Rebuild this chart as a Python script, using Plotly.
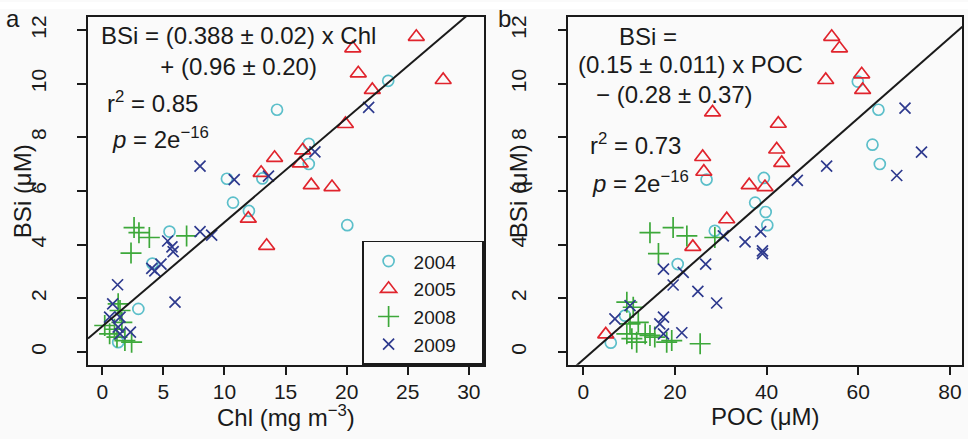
import plotly.graph_objects as go

# ---- data -------------------------------------------------------------
years = ["2004", "2005", "2008", "2009"]

# panel a: BSi vs Chl
chl_2004 = [14.3, 23.4, 16.9, 16.9, 10.2, 13.1, 10.7, 12.0, 5.5, 4.1, 2.95, 1.3, 20.05]
bsi_chl_2004 = [9.03, 10.11, 7.76, 7.01, 6.46, 6.47, 5.57, 5.26, 4.49, 3.30, 1.61, 0.37, 4.73]
chl_2005 = [25.7, 20.5, 20.95, 27.9, 22.1, 19.9, 16.4, 14.1, 16.2, 13.0, 17.1, 18.8, 11.95, 13.45]
bsi_chl_2005 = [11.75, 11.32, 10.39, 10.14, 9.77, 8.5, 7.52, 7.24, 7.03, 6.68, 6.22, 6.15, 4.97, 3.96]
chl_2008 = [2.6, 3.0, 3.85, 6.9, 2.35, 1.3, 1.45, 1.6, 0.2, 0.6, 2.4, 1.85, 1.2, 1.0]
bsi_chl_2008 = [4.64, 4.45, 4.27, 4.33, 3.69, 1.8, 1.55, 1.11, 0.99, 0.68, 0.37, 0.43, 0.56, 0.85]
chl_2009 = [21.8, 17.4, 8.0, 10.8, 13.6, 8.0, 8.95, 5.35, 5.7, 5.8, 4.8, 4.05, 4.3, 1.25,
            5.95, 0.85, 0.6, 1.45, 1.3, 1.45, 2.3]
bsi_chl_2009 = [9.12, 7.46, 6.93, 6.43, 6.56, 4.49, 4.36, 4.14, 3.92, 3.74, 3.28, 3.12, 3.03, 2.51,
                1.86, 1.8, 1.3, 1.3, 0.93, 0.68, 0.74]

# panel b: BSi vs POC
poc_2004 = [59.9, 64.4, 63.1, 64.7, 39.4, 26.9, 37.5, 39.8, 40.15, 28.7, 20.6, 9.1, 6.0]
bsi_poc_2004 = [10.08, 9.03, 7.73, 7.01, 6.49, 6.43, 5.57, 5.22, 4.73, 4.52, 3.28, 1.36, 0.35]
poc_2005 = [54.2, 55.9, 60.75, 52.9, 60.95, 28.2, 42.55, 42.2, 26.05, 43.3, 26.3, 36.2, 39.65,
            31.3, 23.9, 4.9]
bsi_poc_2005 = [11.75, 11.32, 10.35, 10.14, 9.77, 8.93, 8.51, 7.55, 7.27, 7.05, 6.72, 6.22, 6.15,
                4.95, 3.92, 0.66]
poc_2008 = [14.55, 19.6, 22.6, 28.7, 16.4, 9.5, 10.9, 12.0, 10.2, 9.5, 10.6, 11.65, 13.5, 14.55,
            15.6, 18.2, 19.3, 25.5]
bsi_poc_2008 = [4.45, 4.64, 4.33, 4.27, 3.67, 1.86, 1.67, 1.11, 1.05, 0.68, 0.5, 0.37, 0.68, 0.62,
                0.56, 0.37, 0.43, 0.31]
poc_2009 = [70.2, 73.8, 53.1, 68.4, 46.7, 38.7, 30.55, 35.3, 39.1, 39.1, 17.5, 21.8, 26.7, 19.6,
            25.0, 29.1, 10.2, 6.9, 17.5, 16.7, 17.5, 21.5]
bsi_poc_2009 = [9.09, 7.45, 6.93, 6.58, 6.4, 4.49, 4.33, 4.11, 3.77, 3.67, 3.09, 2.97, 3.28, 2.5,
                2.26, 1.83, 1.73, 1.24, 1.3, 1.05, 0.68, 0.72]

# regression coefficients (slope, intercept)
fit_chl = (0.388, 0.96)
fit_poc = (0.15, -0.28)

# axis ticks
chl_ticks = [0, 5, 10, 15, 20, 25, 30]
poc_ticks = [0, 20, 40, 60, 80]
bsi_ticks = [0, 2, 4, 6, 8, 10, 12]

# ---- styling ----------------------------------------------------------
FONT = "Liberation Sans, Arial, Helvetica, sans-serif"
INK = "#1a1a1a"
BG = "#fafafa"
W, H = 968, 439

styles = {
    "2004": dict(symbol="circle-open", color="#5cbfca", size=11),
    "2005": dict(symbol="triangle-up-open", color="#e0242d", size=14),
    "2008": dict(symbol="cross-thin-open", color="#3da83a", size=15),
    "2009": dict(symbol="x-thin-open", color="#2e3a8e", size=11),
}

panel_a = {"2004": (chl_2004, bsi_chl_2004), "2005": (chl_2005, bsi_chl_2005),
           "2008": (chl_2008, bsi_chl_2008), "2009": (chl_2009, bsi_chl_2009)}
panel_b = {"2004": (poc_2004, bsi_poc_2004), "2005": (poc_2005, bsi_poc_2005),
           "2008": (poc_2008, bsi_poc_2008), "2009": (poc_2009, bsi_poc_2009)}

xrange_a = [-1.17, 31.24]
xrange_b = [-3.27, 82.70]
yrange = [-0.468, 12.49]

# padding after legend labels widens the legend box
LEGEND_PAD = "\u00a0" * 4


def px(x):
    return x / W


def py(y):
    return 1 - y / H


fig = go.Figure()

for panel, (xa, ya), show in ((panel_a, ("x", "y"), True), (panel_b, ("x2", "y2"), False)):
    for yr in years:
        xs, ys = panel[yr]
        st = styles[yr]
        fig.add_trace(go.Scatter(
            x=xs, y=ys, mode="markers", name=yr + LEGEND_PAD, legendgroup=yr, showlegend=show,
            xaxis=xa, yaxis=ya,
            marker=dict(symbol=st["symbol"], size=st["size"], color=st["color"],
                        line=dict(width=1.7, color=st["color"])),
        ))

# regression lines across each panel
for (slope, icpt), rng, (xa, ya) in ((fit_chl, xrange_a, ("x", "y")), (fit_poc, xrange_b, ("x2", "y2"))):
    fig.add_trace(go.Scatter(
        x=rng, y=[slope * v + icpt for v in rng], mode="lines", showlegend=False,
        xaxis=xa, yaxis=ya, line=dict(color=INK, width=2), hoverinfo="skip",
    ))

# empty traces so the label-only axes are drawn
fig.add_trace(go.Scatter(x=[], y=[], xaxis="x", yaxis="y3", showlegend=False, hoverinfo="skip"))
fig.add_trace(go.Scatter(x=[], y=[], xaxis="x2", yaxis="y4", showlegend=False, hoverinfo="skip"))

axis_common = dict(
    showline=True, mirror=True, linecolor=INK, linewidth=1.6,
    ticks="outside", ticklen=9, tickwidth=1.6, tickcolor=INK,
    showgrid=False, zeroline=False,
    tickfont=dict(family=FONT, size=21, color=INK),
)

# free-standing axes that only carry the rotated BSi tick labels, set a bit
# further out from the frame than the default label position
label_axis = dict(
    range=yrange, tickvals=bsi_ticks, tickangle=-90, side="left", anchor="free",
    showline=False, showgrid=False, zeroline=False,
    ticks="outside", ticklen=9, tickcolor="rgba(0,0,0,0)",
    tickfont=dict(family=FONT, size=21, color=INK),
)

y_dom = [py(364.3), py(15)]

fig.update_layout(
    width=W, height=H, margin=dict(l=0, r=0, t=0, b=0),
    paper_bgcolor=BG, plot_bgcolor=BG,
    font=dict(family=FONT, color=INK),
    xaxis=dict(domain=[px(88), px(484)], range=xrange_a, tickvals=chl_ticks,
               anchor="y", ticklabelstandoff=-2, **axis_common),
    yaxis=dict(domain=y_dom, range=yrange, tickvals=bsi_ticks, showticklabels=False,
               anchor="x", **axis_common),
    xaxis2=dict(domain=[px(568.3), px(962.3)], range=xrange_b, tickvals=poc_ticks,
                anchor="y2", ticklabelstandoff=-2, **axis_common),
    yaxis2=dict(domain=y_dom, range=yrange, tickvals=bsi_ticks, showticklabels=False,
                anchor="x2", **axis_common),
    yaxis3=dict(overlaying="y", position=px(63), **label_axis),
    yaxis4=dict(overlaying="y2", position=px(543), **label_axis),
    legend=dict(
        x=px(484), y=py(364.3), xanchor="right", yanchor="bottom",
        bgcolor=BG, bordercolor=INK, borderwidth=1.6,
        font=dict(family=FONT, size=19, color=INK), itemwidth=40,
        tracegroupgap=0,
    ),
    showlegend=True,
)

# thin white strip along the top edge
fig.add_shape(type="rect", xref="paper", yref="paper", x0=0, x1=1, y0=py(7), y1=1,
              fillcolor="white", line_width=0, layer="below")


def note(text, x, y, size=24, xanchor="center", angle=0):
    fig.add_annotation(text=text, x=px(x), y=py(y), xref="paper", yref="paper",
                       xanchor=xanchor, yanchor="middle", showarrow=False, textangle=angle,
                       font=dict(family=FONT, size=size, color=INK))


# panel letters
note("a", 13, 17, size=24)
note("b", 504, 17, size=24)

# axis titles
note("Chl (mg m<sup>\u22123</sup>)", 286, 416, size=24)
note("POC (\u03bcM)", 765, 416, size=24)
note("BSi (\u03bcM)", 22, 190, size=24, angle=-90)
note("BSi (\u03bcM)", 518, 190, size=24, angle=-90)

# panel a statistics
note("BSi = (0.388 \u00b1 0.02) x Chl<br>+ (0.96 \u00b1 0.20)", 238, 49)
note("r<sup>2</sup> = 0.85", 105, 100, xanchor="left")
note("<i>p</i> = 2e<sup>\u221216</sup>", 110, 137, xanchor="left")

# panel b statistics
note("BSi =", 647.5, 35)
note("(0.15 \u00b1 0.011) x POC", 690, 63)
note("\u2212 (0.28 \u00b1 0.37)", 674, 93)
note("r<sup>2</sup> = 0.73", 588, 143, xanchor="left")
note("<i>p</i> = 2e<sup>\u221216</sup>", 590, 181, xanchor="left")

fig.write_html("out.html")
